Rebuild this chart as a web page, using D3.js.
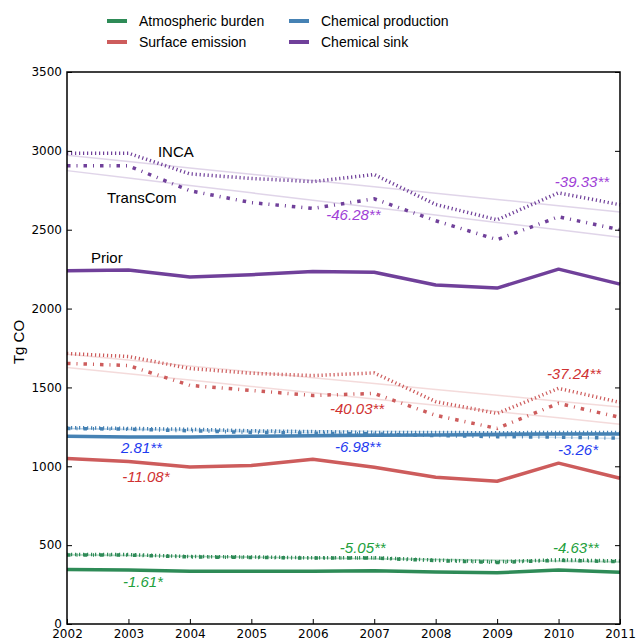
<!DOCTYPE html>
<html>
<head>
<meta charset="utf-8">
<script src="https://cdn.jsdelivr.net/npm/d3@7"></script>
<style>
  body { margin: 0; background: #fff; }
  #chart text { font-family: "Liberation Sans", Arial, sans-serif; }
  #chart .tick text { font-family: "DejaVu Sans", sans-serif; font-size: 12px; }
</style>
</head>
<body>
<div id="chart"></div>
<script>
// years on the x axis
const years = [2002, 2003, 2004, 2005, 2006, 2007, 2008, 2009, 2010, 2011];

// Tg CO
const burdenPrior = [345, 343, 335, 335, 335, 337, 330, 325, 342, 328];
const burdenInca = [440, 440, 428, 425, 420, 420, 405, 395, 407, 400];
const burdenTranscom = [437, 437, 425, 422, 418, 418, 402, 390, 404, 395];

const emissionPrior = [1050, 1030, 995, 1005, 1044, 994, 930, 905, 1020, 924];
const emissionInca = [1715, 1696, 1620, 1590, 1575, 1592, 1410, 1335, 1494, 1405];
const emissionTranscom = [1652, 1639, 1513, 1481, 1449, 1462, 1323, 1240, 1399, 1310];

const productionPrior = [1190, 1185, 1185, 1190, 1193, 1196, 1198, 1202, 1205, 1205];
const productionInca = [1245, 1240, 1235, 1225, 1220, 1215, 1215, 1212, 1215, 1215];
const productionTranscom = [1240, 1235, 1225, 1215, 1210, 1205, 1195, 1188, 1185, 1178];

const sinkPrior = [2240, 2245, 2200, 2215, 2235, 2230, 2150, 2130, 2250, 2155];
const sinkInca = [2985, 2985, 2854, 2825, 2805, 2850, 2660, 2563, 2734, 2658];
const sinkTranscom = [2905, 2905, 2747, 2672, 2635, 2696, 2557, 2437, 2582, 2500];

const yTicks = [0, 500, 1000, 1500, 2000, 2500, 3000, 3500];

// budget terms: name, colour, colour of the trend numbers
const terms = [
  { name: "Atmospheric burden", color: "#2e8b57", note: "#22a03c", prior: burdenPrior, inca: burdenInca, transcom: burdenTranscom },
  { name: "Surface emission", color: "#cd5c5c", note: "#d03232", prior: emissionPrior, inca: emissionInca, transcom: emissionTranscom },
  { name: "Chemical production", color: "#4682b4", note: "#1f3cf0", prior: productionPrior, inca: productionInca, transcom: productionTranscom },
  { name: "Chemical sink", color: "#70409a", note: "#a03ed6", prior: sinkPrior, inca: sinkInca, transcom: sinkTranscom },
];

// trend labels (text, year, value of baseline)
const trendNotes = [
  { term: 3, text: "-46.28**", year: 2006.22, value: 2564 },
  { term: 3, text: "-39.33**", year: 2009.94, value: 2773 },
  { term: 1, text: "-40.03**", year: 2006.28, value: 1333 },
  { term: 1, text: "-37.24**", year: 2009.81, value: 1555 },
  { term: 1, text: "-11.08*", year: 2002.9, value: 901 },
  { term: 2, text: "2.81**", year: 2002.88, value: 1085 },
  { term: 2, text: "-6.98**", year: 2006.36, value: 1092 },
  { term: 2, text: "-3.26*", year: 2009.99, value: 1072 },
  { term: 0, text: "-1.61*", year: 2002.91, value: 235 },
  { term: 0, text: "-5.05**", year: 2006.44, value: 451 },
  { term: 0, text: "-4.63**", year: 2009.91, value: 451 },
];

const modelNames = [
  { text: "INCA", year: 2003.48, value: 2964 },
  { text: "TransCom", year: 2002.65, value: 2672 },
  { text: "Prior", year: 2002.39, value: 2291 },
];

const margin = { top: 72, right: 16, bottom: 18, left: 67 };
const totalWidth = 636;
const totalHeight = 642;
const width = totalWidth - margin.left - margin.right;
const height = totalHeight - margin.top - margin.bottom;

const root = d3
  .select("#chart")
  .append("svg")
  .attr("width", totalWidth)
  .attr("height", totalHeight);

const svg = root
  .append("g")
  .attr("transform", "translate(" + margin.left + "," + margin.top + ")");

const x = d3.scaleLinear().domain([2002, 2011]).range([0, width]);
const y = d3.scaleLinear().domain([0, 3500]).range([height, 0]);

// least squares fit, used for the faint trend lines
function fit(values) {
  const mx = d3.mean(years);
  const my = d3.mean(values);
  const sxy = d3.sum(years, (yr, i) => (yr - mx) * (values[i] - my));
  const sxx = d3.sum(years, (yr) => (yr - mx) * (yr - mx));
  const slope = sxy / sxx;
  return years.map((yr) => my + slope * (yr - mx));
}

const line = d3
  .line()
  .x((d, i) => x(years[i]))
  .y((d) => y(d));

const dotted = "1.2,2.8";
const dashDot = "3.5,6,1,6";

// trend lines first so they sit behind
terms.forEach((t) => {
  [t.inca, t.transcom].forEach((vals) => {
    svg
      .append("path")
      .datum(fit(vals))
      .attr("d", line)
      .attr("fill", "none")
      .attr("stroke", t.color)
      .attr("stroke-opacity", 0.22)
      .attr("stroke-width", 1.5);
  });
});

terms.forEach((t) => {
  svg
    .append("path")
    .datum(t.prior)
    .attr("d", line)
    .attr("fill", "none")
    .attr("stroke", t.color)
    .attr("stroke-width", 3.5)
    .attr("stroke-linejoin", "round");

  svg
    .append("path")
    .datum(t.inca)
    .attr("d", line)
    .attr("fill", "none")
    .attr("stroke", t.color)
    .attr("stroke-width", 3.5)
    .attr("stroke-dasharray", dotted);

  svg
    .append("path")
    .datum(t.transcom)
    .attr("d", line)
    .attr("fill", "none")
    .attr("stroke", t.color)
    .attr("stroke-width", 3.5)
    .attr("stroke-dasharray", dashDot);
});

// slope numbers
svg
  .selectAll(".note")
  .data(trendNotes)
  .join("text")
  .attr("class", "note")
  .attr("x", (d) => x(d.year))
  .attr("y", (d) => y(d.value))
  .attr("fill", (d) => terms[d.term].note)
  .style("font-size", "15px")
  .style("font-style", "italic")
  .text((d) => d.text);

svg
  .selectAll(".model")
  .data(modelNames)
  .join("text")
  .attr("class", "model")
  .attr("x", (d) => x(d.year))
  .attr("y", (d) => y(d.value))
  .attr("fill", "#000")
  .style("font-size", "15px")
  .text((d) => d.text);

// axes, ticks point inwards
svg
  .append("g")
  .attr("class", "axis axis--x")
  .attr("transform", `translate(0,${height})`)
  .call(d3.axisBottom(x).tickValues(years).tickFormat(d3.format("d")).tickSizeInner(-5).tickSizeOuter(0).tickPadding(5));

svg
  .append("g")
  .attr("class", "axis axis--y")
  .call(d3.axisLeft(y).tickValues(yTicks).tickFormat(d3.format("d")).tickSizeInner(-5).tickSizeOuter(0).tickPadding(5));

svg
  .append("g")
  .attr("class", "axis axis--y2")
  .attr("transform", `translate(${width},0)`)
  .call(d3.axisRight(y).tickValues(yTicks).tickSizeInner(-5).tickSizeOuter(0).tickFormat(""));

svg.selectAll(".axis .domain").remove();
svg.selectAll(".axis .tick line").attr("stroke", "#000").attr("stroke-width", 1);
svg.selectAll(".axis .tick text").attr("fill", "#000");

// frame
svg
  .append("rect")
  .attr("width", width)
  .attr("height", height)
  .attr("fill", "none")
  .attr("stroke", "#000")
  .attr("stroke-width", 1.5);

// y label
root
  .append("text")
  .attr("transform", `translate(24,${margin.top + height / 2 - 6}) rotate(-90)`)
  .attr("text-anchor", "middle")
  .style("font-size", "15px")
  .text("Tg CO");

// legend, two columns
const legend = root
  .selectAll(".legend")
  .data(terms)
  .join("g")
  .attr("class", "legend")
  .attr("transform", (d, i) => `translate(${i < 2 ? 107 : 289},${i % 2 === 0 ? 21 : 42})`);

legend
  .append("line")
  .attr("x1", 0)
  .attr("x2", 20)
  .attr("stroke", (d) => d.color)
  .attr("stroke-width", 4);

legend
  .append("text")
  .attr("x", 32)
  .attr("dy", "0.35em")
  .style("font-size", "14px")
  .text((d) => d.name);
</script>
</body>
</html>
